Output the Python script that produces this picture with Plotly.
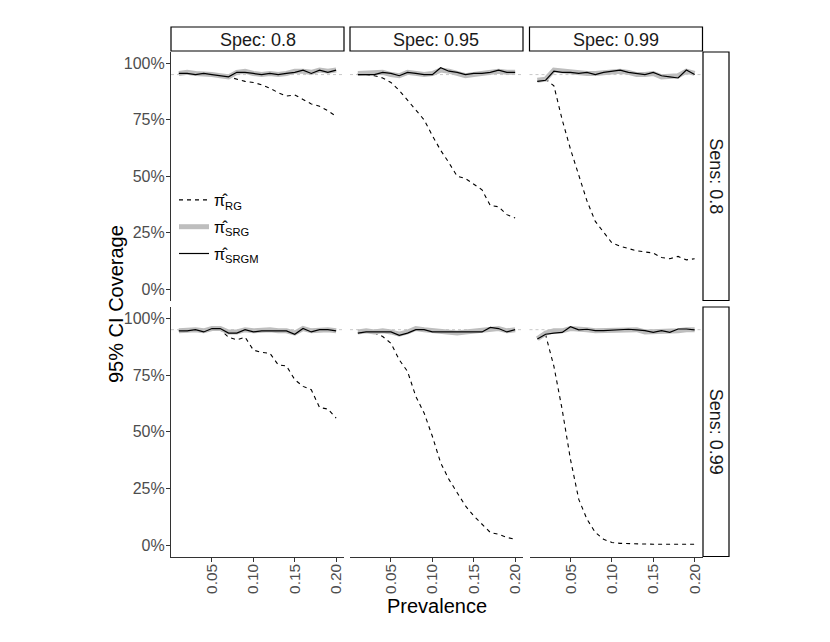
import plotly.graph_objects as go
from plotly.subplots import make_subplots

# --- data (coverage as fraction) ---
prevalence = [0.01, 0.02, 0.03, 0.04, 0.05, 0.06, 0.07, 0.08, 0.09, 0.10,
              0.11, 0.12, 0.13, 0.14, 0.15, 0.16, 0.17, 0.18, 0.19, 0.20]

spec_labels = ['Spec: 0.8', 'Spec: 0.95', 'Spec: 0.99']
sens_labels = ['Sens: 0.8', 'Sens: 0.99']
x_ticks = [0.05, 0.10, 0.15, 0.20]
x_ticklabels = ['0.05', '0.10', '0.15', '0.20']
y_ticks = [0, 0.25, 0.5, 0.75, 1]
y_ticklabels = ['0%', '25%', '50%', '75%', '100%']

# Sens 0.8
rg_se80_sp80 = [0.955, 0.955, 0.96, 0.955, 0.955, 0.945, 0.94, 0.93, 0.92, 0.915, 0.905, 0.89, 0.87, 0.855, 0.86, 0.84, 0.82, 0.81, 0.79, 0.765]
srg_se80_sp80 = [0.955, 0.96, 0.955, 0.955, 0.95, 0.945, 0.94, 0.96, 0.965, 0.955, 0.95, 0.955, 0.95, 0.955, 0.965, 0.965, 0.96, 0.97, 0.965, 0.97]
srgm_se80_sp80 = [0.955, 0.955, 0.95, 0.955, 0.95, 0.945, 0.94, 0.96, 0.96, 0.955, 0.95, 0.955, 0.95, 0.955, 0.96, 0.97, 0.955, 0.97, 0.96, 0.97]

rg_se80_sp95 = [0.955, 0.95, 0.945, 0.935, 0.915, 0.88, 0.835, 0.79, 0.75, 0.68, 0.615, 0.56, 0.5, 0.49, 0.465, 0.44, 0.37, 0.365, 0.33, 0.315]
srg_se80_sp95 = [0.955, 0.955, 0.955, 0.96, 0.95, 0.945, 0.96, 0.955, 0.95, 0.955, 0.97, 0.965, 0.955, 0.945, 0.95, 0.955, 0.96, 0.965, 0.96, 0.96]
srgm_se80_sp95 = [0.95, 0.95, 0.95, 0.96, 0.955, 0.945, 0.96, 0.955, 0.95, 0.95, 0.98, 0.965, 0.96, 0.95, 0.955, 0.955, 0.96, 0.97, 0.96, 0.96]

rg_se80_sp99 = [0.92, 0.93, 0.90, 0.75, 0.62, 0.5, 0.39, 0.3, 0.25, 0.205, 0.19, 0.18, 0.17, 0.165, 0.16, 0.14, 0.135, 0.145, 0.13, 0.135]
srg_se80_sp99 = [0.925, 0.93, 0.97, 0.965, 0.96, 0.955, 0.955, 0.955, 0.96, 0.96, 0.965, 0.96, 0.95, 0.95, 0.955, 0.94, 0.94, 0.945, 0.965, 0.955]
srgm_se80_sp99 = [0.92, 0.925, 0.965, 0.96, 0.96, 0.955, 0.96, 0.95, 0.96, 0.965, 0.97, 0.96, 0.955, 0.95, 0.96, 0.945, 0.94, 0.935, 0.97, 0.95]

# Sens 0.99
rg_se99_sp80 = [0.945, 0.945, 0.955, 0.945, 0.95, 0.95, 0.917, 0.905, 0.917, 0.86, 0.85, 0.846, 0.795, 0.79, 0.73, 0.70, 0.685, 0.607, 0.6, 0.56]
srg_se99_sp80 = [0.945, 0.95, 0.95, 0.945, 0.955, 0.955, 0.94, 0.94, 0.95, 0.945, 0.95, 0.95, 0.945, 0.945, 0.935, 0.955, 0.945, 0.95, 0.95, 0.945]
srgm_se99_sp80 = [0.945, 0.945, 0.95, 0.94, 0.955, 0.955, 0.935, 0.935, 0.95, 0.94, 0.945, 0.945, 0.945, 0.945, 0.93, 0.955, 0.94, 0.95, 0.95, 0.945]

rg_se99_sp95 = [0.935, 0.94, 0.935, 0.92, 0.89, 0.817, 0.766, 0.656, 0.583, 0.48, 0.363, 0.29, 0.231, 0.173, 0.129, 0.092, 0.056, 0.048, 0.034, 0.026]
srg_se99_sp95 = [0.94, 0.945, 0.94, 0.945, 0.94, 0.93, 0.94, 0.955, 0.95, 0.945, 0.94, 0.935, 0.935, 0.94, 0.945, 0.945, 0.955, 0.955, 0.945, 0.95]
srgm_se99_sp95 = [0.935, 0.94, 0.94, 0.94, 0.94, 0.925, 0.935, 0.95, 0.95, 0.94, 0.94, 0.94, 0.94, 0.94, 0.94, 0.94, 0.96, 0.955, 0.94, 0.95]

rg_se99_sp99 = [0.91, 0.927, 0.788, 0.597, 0.378, 0.202, 0.114, 0.056, 0.026, 0.012, 0.008, 0.006, 0.005, 0.005, 0.004, 0.004, 0.004, 0.004, 0.004, 0.004]
srg_se99_sp99 = [0.91, 0.935, 0.945, 0.945, 0.955, 0.955, 0.95, 0.945, 0.945, 0.95, 0.95, 0.95, 0.95, 0.94, 0.94, 0.94, 0.94, 0.945, 0.95, 0.95]
srgm_se99_sp99 = [0.909, 0.93, 0.935, 0.938, 0.963, 0.949, 0.952, 0.946, 0.946, 0.949, 0.952, 0.952, 0.949, 0.946, 0.938, 0.946, 0.938, 0.953, 0.953, 0.949]

panels = [
    [(rg_se80_sp80, srg_se80_sp80, srgm_se80_sp80),
     (rg_se80_sp95, srg_se80_sp95, srgm_se80_sp95),
     (rg_se80_sp99, srg_se80_sp99, srgm_se80_sp99)],
    [(rg_se99_sp80, srg_se99_sp80, srgm_se99_sp80),
     (rg_se99_sp95, srg_se99_sp95, srgm_se99_sp95),
     (rg_se99_sp99, srg_se99_sp99, srgm_se99_sp99)],
]

names = ['π̂<sub>RG</sub>', 'π̂<sub>SRG</sub>', 'π̂<sub>SRGM</sub>']
styles = [dict(color='black', width=1.1, dash='4px,4px'),
          dict(color='#bebebe', width=5),
          dict(color='black', width=1.2)]

# page body adds an 8px margin, so work in screen pixels and shift back
OFF = 8
W, H = 830 - OFF, 642 - OFF


def px_x(p):
    return (p - OFF) / W


def px_y(p):
    return 1 - (p - OFF) / H


col_px = [(171, 344), (350, 523), (529.5, 702.5)]
row_px = [(52, 300.5), (307, 556.5)]

fig = make_subplots(rows=2, cols=3)

for r in range(2):
    for c in range(3):
        for k in range(3):
            fig.add_trace(go.Scatter(x=prevalence, y=panels[r][c][k], mode='lines',
                                     name=names[k], line=styles[k],
                                     legendgroup=names[k], showlegend=(r == 0 and c == 0)),
                          row=r + 1, col=c + 1)
        fig.add_hline(y=0.95, line=dict(color='#c8c8c8', width=1, dash='dot'),
                      layer='below', row=r + 1, col=c + 1)

        x0, x1 = col_px[c]
        y0, y1 = row_px[r]
        fig.update_xaxes(domain=[px_x(x0), px_x(x1)], range=[0.0005, 0.2095],
                         tickvals=x_ticks, ticktext=x_ticklabels,
                         tickangle=-90, showgrid=False, zeroline=False,
                         showline=(r == 1), linecolor='#333333', linewidth=1.2,
                         ticks='outside' if r == 1 else '', ticklen=4, tickcolor='#333333',
                         showticklabels=(r == 1), ticklabelstandoff=-4,
                         tickfont=dict(size=15.5, color='#4d4d4d'),
                         row=r + 1, col=c + 1)
        fig.update_yaxes(domain=[px_y(y1), px_y(y0)], range=[-0.05, 1.05],
                         tickvals=y_ticks, ticktext=y_ticklabels,
                         showgrid=False, zeroline=False,
                         showline=(c == 0), linecolor='#333333', linewidth=1.2,
                         ticks='outside' if c == 0 else '', ticklen=4, tickcolor='#333333',
                         showticklabels=(c == 0), ticklabelstandoff=-2,
                         tickfont=dict(size=16, color='#4d4d4d'),
                         row=r + 1, col=c + 1)

# facet strips
for c in range(3):
    x0, x1 = col_px[c]
    fig.add_shape(type='rect', xref='paper', yref='paper',
                  x0=px_x(x0), x1=px_x(x1), y0=px_y(51), y1=px_y(27),
                  line=dict(color='black', width=1.2), fillcolor='white')
    fig.add_annotation(text=spec_labels[c], xref='paper', yref='paper',
                       x=px_x((x0 + x1) / 2), y=px_y(39.5), showarrow=False,
                       xanchor='center', yanchor='middle',
                       font=dict(size=18, color='#1a1a1a'))
for r in range(2):
    y0, y1 = row_px[r]
    fig.add_shape(type='rect', xref='paper', yref='paper',
                  x0=px_x(703), x1=px_x(729), y0=px_y(y1), y1=px_y(y0),
                  line=dict(color='black', width=1.2), fillcolor='white')
    fig.add_annotation(text=sens_labels[r], xref='paper', yref='paper',
                       x=px_x(716), y=px_y((y0 + y1) / 2), showarrow=False,
                       xanchor='center', yanchor='middle',
                       textangle=90, font=dict(size=18, color='#1a1a1a'))

# axis titles
fig.add_annotation(text='95% CI Coverage', xref='paper', yref='paper',
                   x=px_x(116), y=px_y(304), showarrow=False, textangle=-90,
                   xanchor='center', yanchor='middle',
                   font=dict(size=20, color='black'))
fig.add_annotation(text='Prevalence', xref='paper', yref='paper',
                   x=px_x(437), y=px_y(606), showarrow=False,
                   xanchor='center', yanchor='middle',
                   font=dict(size=20, color='black'))

fig.update_layout(
    width=W, height=H,
    margin=dict(l=0, r=0, t=0, b=0),
    paper_bgcolor='white', plot_bgcolor='white',
    font=dict(family='Liberation Sans, Arial, sans-serif'),
    legend=dict(x=px_x(174), y=px_y(183), xanchor='left', yanchor='top',
                bgcolor='rgba(0,0,0,0)', font=dict(size=16, color='black'),
                itemwidth=30, tracegroupgap=3),
)

fig.write_html('out.html')
